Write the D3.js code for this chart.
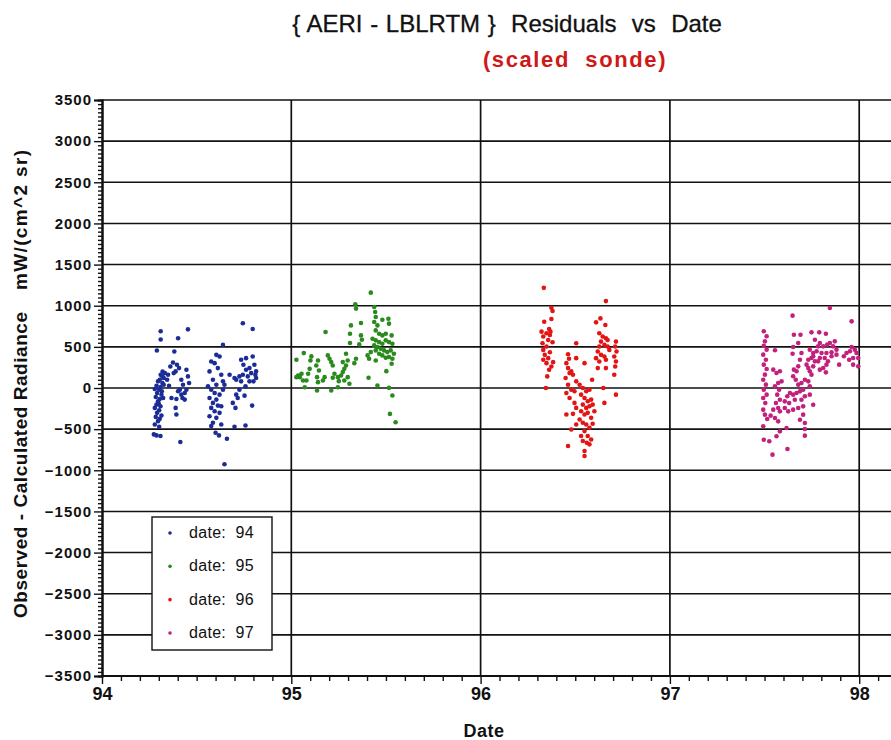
<!DOCTYPE html>
<html>
<head>
<meta charset="utf-8">
<script src="https://cdn.jsdelivr.net/npm/d3@7"></script>
<style>
  html, body { margin: 0; padding: 0; background: #fff; }
  svg { display: block; }
  text { font-family: "Liberation Sans", Arial, Helvetica, sans-serif; }
</style>
</head>
<body>
<svg id="chart" width="891" height="740"></svg>
<script>
// Residual series, one per campaign year: [decimal date, residual in mW/(cm^2 sr)]
const categories = ["94", "95", "96", "97"];

const residuals94 = [
  [94.31,690],[94.31,590],[94.29,455],[94.32,200],[94.31,160],[94.326,121],[94.305,101],[94.296,81],
  [94.319,60],[94.288,28],[94.309,12],[94.302,-20],[94.291,-60],[94.314,-81],[94.284,-109],[94.305,-133],
  [94.296,-161],[94.288,-202],[94.309,-222],[94.279,-242],[94.302,-270],[94.291,-302],[94.314,-334],
  [94.284,-351],[94.305,-375],[94.296,-403],[94.279,-443],[94.302,-472],[94.274,-564],[94.288,-576],
  [94.309,-584],[94.319,141],[94.332,181],[94.326,40],[94.316,-40],[94.30,-193],[94.279,-12],[94.323,-121],
  [94.382,443],[94.402,605],[94.454,713],[94.375,310],[94.396,282],[94.389,202],[94.407,242],[94.361,262],
  [94.349,161],[94.367,-121],[94.393,-133],[94.389,-242],[94.393,-322],[94.414,-657],[94.419,101],
  [94.428,40],[94.411,-20],[94.425,-121],[94.437,-141],[94.446,222],[94.454,141],[94.46,60],[94.446,-20],
  [94.437,-60],[94.419,-81],[94.402,-40],[94.379,181],[94.344,101],[94.354,28],
  [94.639,524],[94.744,786],[94.796,717],[94.604,403],[94.621,383],[94.577,322],[94.568,202],[94.595,302],
  [94.612,242],[94.63,161],[94.586,101],[94.639,81],[94.604,40],[94.577,-20],[94.595,-60],[94.621,-81],
  [94.568,-121],[94.604,-141],[94.586,-181],[94.612,-214],[94.577,-242],[94.595,-282],[94.621,-302],
  [94.568,-343],[94.604,-363],[94.586,-423],[94.577,-463],[94.63,-443],[94.60,-544],[94.618,-576],
  [94.66,-617],[94.647,-927],[94.674,161],[94.70,121],[94.726,141],[94.709,101],[94.744,161],[94.761,222],
  [94.779,242],[94.747,282],[94.796,383],[94.761,363],[94.805,282],[94.788,181],[94.814,202],[94.814,121],
  [94.80,81],[94.735,81],[94.779,81],[94.758,20],[94.726,-20],[94.709,-81],[94.717,-121],[94.691,-181],
  [94.705,-242],[94.753,-93],[94.793,-214],[94.758,-455],[94.70,-472],[94.63,-222],[94.639,-20],
  [94.647,40],[94.56,20],[94.735,343],[94.77,141],[94.81,161]
];

const residuals95 = [
  [95.42,1159],[95.338,1017],[95.342,965],[95.438,985],[95.443,923],[95.446,863],[95.438,802],[95.455,761],
  [95.481,830],[95.513,842],[95.516,782],[95.315,761],[95.368,790],[95.181,680],[95.31,660],[95.368,639],
  [95.373,587],[95.31,546],[95.359,530],[95.446,700],[95.464,660],[95.481,639],[95.499,660],[95.53,639],
  [95.429,599],[95.446,579],[95.464,558],[95.481,538],[95.499,579],[95.516,558],[95.534,538],[95.438,518],
  [95.455,497],[95.472,477],[95.49,457],[95.507,436],[95.525,457],[95.542,416],[95.446,457],[95.464,416],
  [95.481,396],[95.499,367],[95.516,376],[95.534,355],[95.42,436],[95.403,396],[95.411,355],[95.446,335],
  [95.502,205],[95.53,294],[95.408,124],[95.455,30],[95.516,2],[95.534,-91],[95.521,-315],[95.551,-416],
  [95.342,355],[95.333,302],[95.298,335],[95.289,274],[95.28,233],[95.272,193],[95.298,132],[95.307,51],
  [95.263,152],[95.246,132],[95.228,173],[95.219,124],[95.211,-30],[95.202,355],[95.211,315],[95.193,396],
  [95.219,274],[95.246,10],[95.176,132],[95.141,335],[95.132,274],[95.146,213],[95.136,132],[95.141,71],
  [95.136,-30],[95.101,335],[95.097,233],[95.089,173],[95.08,91],[95.071,10],[95.066,424],[95.027,343],
  [95.036,152],[95.045,132],[95.054,173],[95.027,132],[95.062,91],[95.106,384],[95.167,91],[95.251,83],
  [95.28,91],[95.289,416],[95.272,315]
];

const residuals96 = [
  [96.334,1217],[96.374,975],[96.38,935],[96.336,806],[96.374,838],[96.362,717],[96.348,665],[96.366,645],
  [96.331,625],[96.357,584],[96.38,556],[96.327,544],[96.348,504],[96.331,463],[96.366,435],[96.339,403],
  [96.357,363],[96.331,343],[96.348,302],[96.374,262],[96.362,222],[96.383,314],[96.352,141],[96.345,0],
  [96.322,685],[96.369,685],
  [96.505,544],[96.462,411],[96.467,355],[96.453,302],[96.462,242],[96.47,181],[96.449,121],[96.479,202],
  [96.505,363],[96.549,302],[96.488,161],[96.505,81],[96.462,40],[96.479,-20],[96.453,-60],[96.496,-40],
  [96.47,-121],[96.523,40],[96.54,0],[96.558,-40],[96.575,-20],[96.531,-81],[96.549,-121],[96.566,-161],
  [96.584,-141],[96.54,-202],[96.558,-242],[96.575,-222],[96.592,-202],[96.531,-282],[96.549,-322],
  [96.566,-302],[96.584,-363],[96.453,-322],[96.488,-314],[96.505,-242],[96.523,-383],[96.54,-423],
  [96.558,-443],[96.575,-484],[96.592,-435],[96.549,-524],[96.566,-584],[96.584,-625],[96.54,-645],
  [96.561,-665],[96.531,-584],[96.462,-705],[96.549,-766],[96.549,-826],[96.575,-685],[96.479,-504],
  [96.505,-443],[96.496,-181],[96.589,101],[96.601,-282],
  [96.662,1056],[96.61,798],[96.633,846],[96.659,766],[96.627,665],[96.645,625],[96.662,605],[96.636,564],
  [96.654,524],[96.671,504],[96.619,443],[96.636,403],[96.654,383],[96.61,363],[96.627,322],[96.662,343],
  [96.68,463],[96.715,564],[96.711,504],[96.718,443],[96.706,383],[96.715,322],[96.711,262],[96.706,161],
  [96.715,-81],[96.654,-181],[96.619,242],[96.662,242],[96.648,0],[96.671,584],[96.627,504]
];

const residuals97 = [
  [97.845,972],[97.648,879],[97.96,810],[97.496,689],[97.511,628],[97.502,567],[97.496,514],[97.511,466],
  [97.493,405],[97.507,344],[97.496,284],[97.511,231],[97.502,162],[97.493,101],[97.507,41],[97.496,-20],
  [97.511,-81],[97.493,-122],[97.504,-182],[97.493,-263],[97.502,-324],[97.514,-377],[97.493,-466],
  [97.496,-628],[97.525,-648],[97.542,-810],[97.555,458],[97.546,223],[97.563,182],[97.581,203],[97.59,81],
  [97.572,61],[97.555,20],[97.577,-20],[97.567,-81],[97.581,-142],[97.56,-182],[97.572,-243],[97.581,-284],
  [97.546,-263],[97.532,-336],[97.555,-365],[97.572,-405],[97.563,-587],[97.581,-527],[97.616,-486],
  [97.621,-741],[97.655,648],[97.69,648],[97.678,547],[97.651,498],[97.648,417],[97.695,425],[97.687,344],
  [97.678,263],[97.669,203],[97.655,223],[97.651,142],[97.665,101],[97.678,41],[97.695,61],[97.713,101],
  [97.731,81],[97.739,20],[97.704,-20],[97.687,-41],[97.669,-61],[97.651,-81],[97.634,-61],[97.62,-101],
  [97.607,-162],[97.63,-182],[97.66,-142],[97.695,-142],[97.713,-101],[97.739,-81],[97.757,-203],
  [97.704,-223],[97.678,-243],[97.651,-263],[97.625,-284],[97.607,-243],[97.704,-324],[97.687,-385],
  [97.713,-425],[97.713,-498],[97.713,-579],[97.739,203],[97.748,162],[97.731,243],[97.757,263],
  [97.748,365],[97.757,425],[97.739,466],[97.748,676],[97.789,676],[97.824,660],[97.766,587],[97.792,547],
  [97.783,506],[97.81,506],[97.831,527],[97.845,547],[97.871,567],[97.862,506],[97.88,466],[97.854,433],
  [97.827,425],[97.801,425],[97.775,446],[97.757,385],[97.792,365],[97.818,365],[97.835,324],[97.854,385],
  [97.88,405],[97.827,284],[97.81,243],[97.783,324],[97.824,190],[97.792,223],[97.894,284],[97.919,385],
  [97.933,425],[97.951,446],[97.96,498],[97.977,466],[97.986,425],[97.995,365],[97.968,365],[97.947,344],
  [97.968,284],[97.995,263],[97.766,324],[97.731,344],[97.722,284]
];

const seriesColors = ["#1c2c96", "#2a8a1e", "#e31414", "#c2207c"];
const xTickValues = [94, 95, 96, 97, 98];
const yTickValues = [-3500, -3000, -2500, -2000, -1500, -1000, -500, 0, 500, 1000, 1500, 2000, 2500, 3000, 3500];

const series = [residuals94, residuals95, residuals96, residuals97];

const svg = d3.select("#chart");
const W = 891, H = 740;
svg.append("rect").attr("width", W).attr("height", H).attr("fill", "#fff");

const plotLeft = 102, plotTop = 100, plotBottom = 676;
const x = d3.scaleLinear().domain([94, 98.2]).range([plotLeft, plotLeft + 4.2 * 189.3]);
const y = d3.scaleLinear().domain([-3500, 3500]).range([plotBottom, plotTop]);

// Grid
const grid = svg.append("g");
grid.selectAll("line.h").data(yTickValues).join("line")
  .attr("x1", plotLeft).attr("x2", W + 10)
  .attr("y1", d => y(d)).attr("y2", d => y(d))
  .attr("stroke", "#111").attr("stroke-width", 1.6);
grid.selectAll("line.v").data(xTickValues.slice(1)).join("line")
  .attr("x1", d => x(d)).attr("x2", d => x(d))
  .attr("y1", plotTop).attr("y2", plotBottom)
  .attr("stroke", "#111").attr("stroke-width", 1.7);

// Minor ticks
const yMinor = d3.range(-3500, 3501, 50).filter(v => v % 500 !== 0);
const xMinor = d3.range(940, 983).map(v => v / 10).filter(v => Math.abs(v - Math.round(v)) > 1e-6);

const yAxisMinor = svg.append("g").attr("transform", `translate(${plotLeft},0)`)
  .call(d3.axisLeft(y).tickValues(yMinor).tickSize(4).tickFormat(""));
const xAxisMinor = svg.append("g").attr("transform", `translate(0,${plotBottom})`)
  .call(d3.axisBottom(x).tickValues(xMinor).tickSize(5).tickFormat(""));

const yAxis = svg.append("g").attr("transform", `translate(${plotLeft},0)`)
  .call(d3.axisLeft(y).tickValues(yTickValues).tickSize(8).tickPadding(2).tickFormat(d3.format("d")));
const xAxis = svg.append("g").attr("transform", `translate(0,${plotBottom})`)
  .call(d3.axisBottom(x).tickValues(xTickValues).tickSize(8).tickPadding(3).tickFormat(d3.format("d")));

[yAxisMinor, xAxisMinor, yAxis, xAxis].forEach(g => {
  g.select(".domain").attr("stroke", "#111").attr("stroke-width", 2);
  g.selectAll(".tick line").attr("stroke", "#111").attr("stroke-width", 1.4);
});
xAxisMinor.select(".domain").attr("d", `M${plotLeft},0H${W + 10}`);
xAxis.select(".domain").attr("d", `M${plotLeft},0H${W + 10}`);
yAxis.selectAll(".tick text")
  .attr("font-size", 15).attr("font-weight", "bold").attr("fill", "#111")
  .attr("letter-spacing", "1px");
xAxis.selectAll(".tick text")
  .attr("font-size", 18).attr("font-weight", "bold").attr("fill", "#111");

// Points
const pts = svg.append("g");
series.forEach((s, i) => {
  pts.append("g").selectAll("circle").data(s).join("circle")
    .attr("cx", d => x(d[0])).attr("cy", d => y(d[1]))
    .attr("r", 2.3).attr("fill", seriesColors[i]);
});

// Titles
svg.append("text").attr("x", 507).attr("y", 32).attr("text-anchor", "middle")
  .attr("font-size", 24).attr("fill", "#111").attr("stroke", "#111").attr("stroke-width", 0.3)
  .attr("word-spacing", "1px").style("white-space", "pre")
  .text("{ AERI - LBLRTM }  Residuals  vs  Date");
svg.append("text").attr("x", 575).attr("y", 67).attr("text-anchor", "middle")
  .attr("font-size", 22).attr("font-weight", "bold").attr("fill", "#d01818")
  .attr("letter-spacing", "1.6px").style("white-space", "pre")
  .text("(scaled  sonde)");

// Axis titles
svg.append("text").attr("transform", "translate(27,465) rotate(-90)").attr("text-anchor", "middle")
  .attr("font-size", 19).attr("font-weight", "bold").attr("fill", "#111")
  .attr("textLength", 306).attr("lengthAdjust", "spacing")
  .text("Observed - Calculated Radiance");
svg.append("text").attr("transform", "translate(27,220) rotate(-90)").attr("text-anchor", "middle")
  .attr("font-size", 19).attr("font-weight", "bold").attr("fill", "#111")
  .attr("textLength", 140).attr("lengthAdjust", "spacing")
  .text("mW/(cm^2 sr)");
svg.append("text").attr("x", 484).attr("y", 737).attr("text-anchor", "middle")
  .attr("font-size", 18).attr("font-weight", "bold").attr("fill", "#111")
  .attr("letter-spacing", "0.5px")
  .text("Date");

// Legend
const lg = svg.append("g");
lg.append("rect").attr("x", 152).attr("y", 517).attr("width", 120).attr("height", 133)
  .attr("fill", "#fff").attr("stroke", "#111").attr("stroke-width", 1.4);
const legendY = d3.scalePoint().domain(categories).range([533, 633]);
categories.forEach((c, i) => {
  lg.append("circle").attr("cx", 170).attr("cy", legendY(c)).attr("r", 1.8).attr("fill", seriesColors[i]);
  lg.append("text").attr("x", 189).attr("y", legendY(c) + 5)
    .attr("font-size", 16).attr("fill", "#111").attr("letter-spacing", "0.3px").style("white-space", "pre")
    .text("date:  " + c);
});
</script>
</body>
</html>
